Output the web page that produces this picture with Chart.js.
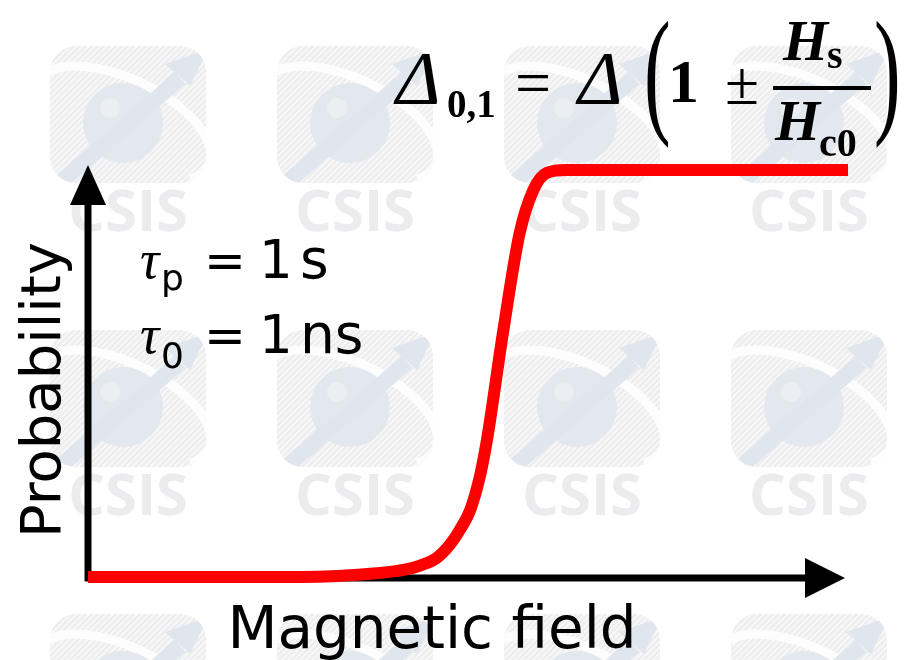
<!DOCTYPE html>
<html>
<head>
<meta charset="utf-8">
<title>Switching probability</title>
<script src="https://cdn.jsdelivr.net/npm/chart.js@4.4.1/dist/chart.umd.min.js"></script>
<style>
  html, body { margin: 0; padding: 0; background: #fff; }
  canvas { display: block; }
</style>
</head>
<body>
<canvas id="probChart" width="905" height="660"></canvas>
<script>
// switching curve: field (arb. units) vs probability
const fieldValues = [0, 2.8, 3.84, 4.17, 4.37, 4.59, 4.76, 4.89, 5.03, 5.16, 5.25, 5.46, 5.68, 5.86, 6.04, 6.3, 10]
const probability = [0, 0, 0.01, 0.018, 0.028, 0.047, 0.079, 0.115, 0.165, 0.25, 0.337, 0.6, 0.845, 0.951, 0.993, 1, 1]

const xTitle = 'Magnetic field'
const yTitle = 'Probability'
// [symbol, subscript, value, unit]
const paramLines = [['τ', 'p', '1', 's'], ['τ', '0', '1', 'ns']]

const SANS = '"DejaVu Sans", sans-serif'
const SERIF = '"Liberation Serif", "DejaVu Serif", serif'

function put(ctx, str, x, y, font, align) {
  ctx.font = font
  ctx.textAlign = align || 'left'
  ctx.fillText(str, x, y)
  return ctx.measureText(str).width
}

// one faint logo tile: hatched rounded square, sphere and arrow
function logoTile(ctx, cx, cy) {
  ctx.save()
  ctx.beginPath()
  ctx.roundRect(cx - 78, cy - 68, 156, 137, 26)
  ctx.fillStyle = '#f7f7f8'
  ctx.fill()
  ctx.clip()
  ctx.strokeStyle = '#ededef'
  ctx.lineWidth = 2
  for (let k = -160; k < 170; k += 6) {
    ctx.beginPath()
    ctx.moveTo(cx - 80 + k, cy + 70)
    ctx.lineTo(cx - 80 + k + 140, cy - 70)
    ctx.stroke()
  }
  // white swoosh
  ctx.strokeStyle = '#fdfdfd'
  ctx.lineWidth = 9
  ctx.beginPath()
  ctx.ellipse(cx - 5, cy + 10, 95, 45, 0.45, Math.PI * 0.85, Math.PI * 2.15)
  ctx.stroke()
  // sphere
  ctx.fillStyle = '#e3e8ef'
  ctx.beginPath()
  ctx.arc(cx - 5, cy + 9, 40, 0, Math.PI * 2)
  ctx.fill()
  ctx.fillStyle = '#ebeef3'
  ctx.beginPath()
  ctx.arc(cx - 18, cy - 6, 10, 0, Math.PI * 2)
  ctx.fill()
  // arrow
  ctx.strokeStyle = '#e0e6ee'
  ctx.fillStyle = '#e0e6ee'
  ctx.lineWidth = 16
  ctx.beginPath()
  ctx.moveTo(cx - 72, cy + 72)
  ctx.lineTo(cx + 52, cy - 36)
  ctx.stroke()
  ctx.beginPath()
  ctx.moveTo(cx + 80, cy - 65)
  ctx.lineTo(cx + 37, cy - 50)
  ctx.lineTo(cx + 62, cy - 28)
  ctx.closePath()
  ctx.fill()
  ctx.restore()
}

function drawWatermark(ctx) {
  const cols = [128, 355, 582, 809]
  const logoRows = [114, 398, 682]
  ctx.save()
  cols.forEach(cx => {
    logoRows.forEach(cy => {
      logoTile(ctx, cx, cy)
      ctx.fillStyle = '#ececee'
      ctx.textBaseline = 'middle'
      put(ctx, 'CSIS', cx, cy + 100, 'bold 58px "Open Sans", sans-serif', 'center')
    })
  })
  ctx.restore()
}

function arrowHead(ctx, tipX, tipY, dir, len, half) {
  ctx.beginPath()
  if (dir === 'up') {
    ctx.moveTo(tipX, tipY)
    ctx.lineTo(tipX - half, tipY + len)
    ctx.lineTo(tipX + half, tipY + len)
  } else {
    ctx.moveTo(tipX, tipY)
    ctx.lineTo(tipX - len, tipY - half)
    ctx.lineTo(tipX - len, tipY + half)
  }
  ctx.closePath()
  ctx.fill()
}

// tall thin bracket: glyph stretched vertically
function bracket(ctx, ch, x, y) {
  ctx.save()
  ctx.translate(x, y)
  ctx.scale(1, 1.75)
  put(ctx, ch, 0, 0, '80px ' + SERIF)
  ctx.restore()
}

const slideDecor = {
  id: 'slideDecor',
  beforeDraw(chart) {
    const ctx = chart.ctx
    ctx.save()
    ctx.fillStyle = '#fff'
    ctx.fillRect(0, 0, chart.width, chart.height)
    ctx.restore()
    drawWatermark(ctx)
  },
  beforeDatasetsDraw(chart) {
    const { ctx, scales: { x, y } } = chart
    const x0 = x.getPixelForValue(0)
    const y0 = y.getPixelForValue(0)
    const xEnd = x.getPixelForValue(10) - 3
    const yEnd = y.getPixelForValue(1) - 5
    ctx.save()
    ctx.strokeStyle = '#000'
    ctx.fillStyle = '#000'
    ctx.lineWidth = 7
    ctx.beginPath()
    ctx.moveTo(x0, y0 + 4)
    ctx.lineTo(x0, yEnd + 30)
    ctx.moveTo(x0 - 3, y0 + 1)
    ctx.lineTo(xEnd - 30, y0 + 1)
    ctx.stroke()
    arrowHead(ctx, x0, yEnd, 'up', 40, 18)
    arrowHead(ctx, xEnd, y0 + 1, 'right', 40, 20)
    ctx.restore()
  },
  afterDraw(chart) {
    const ctx = chart.ctx
    ctx.save()
    ctx.fillStyle = '#000'
    ctx.textBaseline = 'alphabetic'

    // axis titles
    put(ctx, xTitle, 432, 648, '58px ' + SANS, 'center')
    ctx.save()
    ctx.translate(60, 390)
    ctx.rotate(-Math.PI / 2)
    put(ctx, yTitle, 0, 0, '56px ' + SANS, 'center')
    ctx.restore()

    // time constants
    paramLines.forEach((p, i) => {
      const by = 278 + i * 75
      put(ctx, p[0], 140, by, 'italic 54px ' + SERIF)
      put(ctx, p[1], 161, by + 12 + i * 3, '36px ' + SANS)
      put(ctx, '=', 204, by, '50px ' + SANS)
      put(ctx, p[2], 259, by, '53px ' + SANS)
      put(ctx, p[3], 300, by, '55px ' + SANS)
    })

    // barrier formula
    put(ctx, 'Δ', 396, 104, 'italic 76px ' + SERIF)
    put(ctx, '0,1', 447, 117, 'bold 39px ' + SERIF)
    put(ctx, '=', 515, 104, '64px ' + SERIF)
    put(ctx, 'Δ', 578, 104, 'italic 76px ' + SERIF)
    bracket(ctx, '(', 644, 118)
    put(ctx, '1', 668, 102, 'bold 62px ' + SERIF)
    put(ctx, '±', 725, 104, '62px ' + SERIF)
    ctx.fillRect(773, 86, 98, 4)
    let w = put(ctx, 'H', 783, 60, 'bold italic 58px ' + SERIF)
    put(ctx, 's', 783 + w - 1, 68, 'bold 40px ' + SERIF)
    w = put(ctx, 'H', 775, 140, 'bold italic 58px ' + SERIF)
    put(ctx, 'c0', 775 + w - 1, 156, 'bold 40px ' + SERIF)
    bracket(ctx, ')', 874, 118)
    ctx.restore()
  }
}

new Chart(document.getElementById('probChart'), {
  type: 'line',
  data: {
    datasets: [{
      data: fieldValues.map((f, i) => ({ x: f, y: probability[i] })),
      borderColor: '#ff0000',
      borderWidth: 12,
      pointRadius: 0,
      cubicInterpolationMode: 'monotone',
      borderCapStyle: 'butt',
      clip: false,
      fill: false
    }]
  },
  options: {
    responsive: false,
    animation: false,
    devicePixelRatio: 1,
    layout: { padding: { left: 88, right: 57, top: 170, bottom: 83 } },
    plugins: { legend: { display: false }, tooltip: { enabled: false } },
    scales: {
      x: { type: 'linear', min: 0, max: 10, display: false },
      y: { min: 0, max: 1, display: false }
    }
  },
  plugins: [slideDecor]
})
</script>
</body>
</html>
